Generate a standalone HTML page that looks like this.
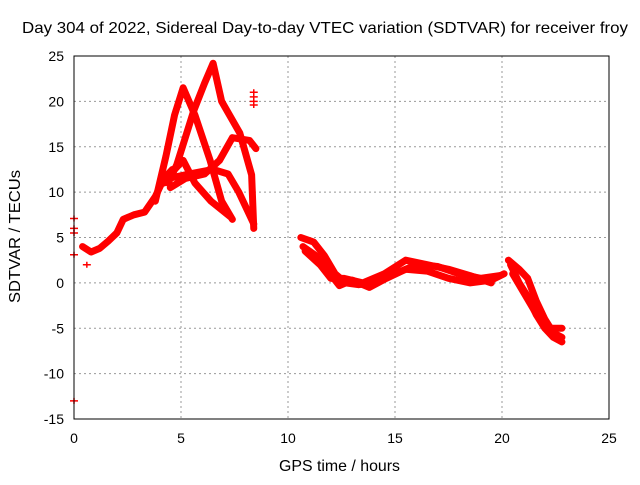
<!DOCTYPE html>
<html><head><meta charset="utf-8"><style>
body{margin:0;background:#fff}
text{font-family:"Liberation Sans",sans-serif;font-size:14px;fill:#000}
.big{font-size:16px}
</style></head><body>
<svg width="640" height="480">
<rect x="0" y="0" width="640" height="480" fill="#fff"/>
<g id="grid"></g>
<g id="marks"></g>
<rect x="74" y="56" width="535" height="363" fill="none" stroke="#000" stroke-width="1"/>
<g id="ticks"></g>
<text class="big" x="22" y="33" textLength="606" lengthAdjust="spacingAndGlyphs">Day 304 of 2022, Sidereal Day-to-day VTEC variation (SDTVAR) for receiver froy</text>
<text class="big" x="279" y="471" textLength="121" lengthAdjust="spacingAndGlyphs">GPS time / hours</text>
<text class="big" transform="translate(20,303) rotate(-90)" textLength="133" lengthAdjust="spacingAndGlyphs">SDTVAR / TECUs</text>
</svg>
<script>
const xTicks=[0,5,10,15,20,25];
const yTicks=[-15,-10,-5,0,5,10,15,20,25];
const trackEarly=[[0.4,4],[0.8,3.4],[1.2,3.8],[1.6,4.6],[2,5.5],[2.3,7],[2.8,7.5],[3.3,7.8],[3.8,9.5],[4.2,11.5],[4.6,12.5]];
const trackPeakA=[[3.8,9],[4.3,14],[4.7,18.5],[5.1,21.5],[5.65,18.5],[6.36,13.5],[6.9,9],[7.4,7]];
const trackPeakB=[[4.4,11],[4.8,13],[5.6,19],[6.1,22],[6.5,24.2],[6.9,20],[7.75,16.5],[8.3,11.9],[8.4,6]];
const trackC=[[4.2,11],[4.7,12.5],[5.1,13.5],[5.65,11],[6.4,9],[7.3,7.3]];
const trackD=[[4.5,10.5],[5.2,11.5],[6.1,12],[6.8,13.5],[7.4,16],[8.2,15.7],[8.5,14.8]];
const trackE=[[4.4,11.5],[5.4,12],[6.5,12.5],[7.2,12],[7.7,10],[8.1,8],[8.4,6.5]];
const trackF=[[10.6,5],[11.2,4.5],[11.7,3],[12.2,1],[12.7,0],[13.3,-0.2],[14,0],[15,1],[16,2],[17,1.8],[18,1],[19,0.5],[19.9,0.8]];
const trackG=[[10.7,4],[11.3,3],[11.8,1.5],[12.4,-0.3],[13,0.3],[13.8,-0.5],[14.6,0.5],[15.5,1.5],[16.5,1.3],[17.5,0.5],[18.5,0],[19.5,0.3],[20.1,1]];
const trackH=[[10.8,3.5],[11.5,2],[12,0.5],[12.6,0.5],[13.5,0],[14.5,1],[15.5,2.5],[16.5,2],[17.5,1.5],[18.5,0.8],[19.5,0]];
const trackI=[[20.3,2.5],[20.8,1.5],[21.2,0.5],[21.6,-2],[22,-4],[22.4,-5.5],[22.8,-6]];
const trackJ=[[20.4,2],[20.8,0],[21.2,-1.5],[21.6,-3.5],[22,-5],[22.4,-6],[22.8,-6.5]];
const trackK=[[20.5,1],[21,-1],[21.5,-3],[21.9,-4.5],[22.3,-5],[22.8,-5]];
const isolated=[[0,7.1],[0,6],[0,5.5],[0,3.1],[0,-13],[0.6,2],[8.4,21],[8.4,20.5],[8.4,20],[8.4,19.6]];
const tracks=[trackEarly,trackPeakA,trackPeakB,trackC,trackD,trackE,trackF,trackG,trackH,trackI,trackJ,trackK];
const X=t=>74+t*21.4, Y=v=>56+(25-v)*9.075;
const NS='http://www.w3.org/2000/svg';
const grid=document.getElementById('grid'),ticks=document.getElementById('ticks'),marks=document.getElementById('marks');
function mk(tag,attrs,parent){const e=document.createElementNS(NS,tag);for(const k in attrs)e.setAttribute(k,attrs[k]);parent.appendChild(e);return e;}
xTicks.forEach(t=>{
 const gl=mk('line',{x1:X(t),x2:X(t),y1:56,y2:419,stroke:'#999','stroke-dasharray':'2,3'},grid);
 
 
 const tx=mk('text',{x:X(t),y:443,'text-anchor':'middle'},ticks);tx.textContent=t;
 
 
});
yTicks.forEach(v=>{
 const gl=mk('line',{x1:74,x2:609,y1:Y(v),y2:Y(v),stroke:'#999','stroke-dasharray':'2,3'},grid);
 
 
 const tx=mk('text',{x:64,y:Y(v)+5,'text-anchor':'end'},ticks);tx.textContent=v;
 
 
});
tracks.forEach(tr=>{
 const pl=mk('polyline',{points:tr.map(p=>X(p[0])+','+Y(p[1])).join(' '),fill:'none',stroke:'#f00','stroke-width':7,'stroke-linejoin':'round','stroke-linecap':'round'},marks);
 
 
});
isolated.forEach(p=>{
 const pt=mk('path',{d:`M${X(p[0])-4},${Y(p[1])}h8M${X(p[0])},${Y(p[1])-3}v6`,stroke:'#f00','stroke-width':1.5},marks);
 
 
});
</script>
</body></html>
